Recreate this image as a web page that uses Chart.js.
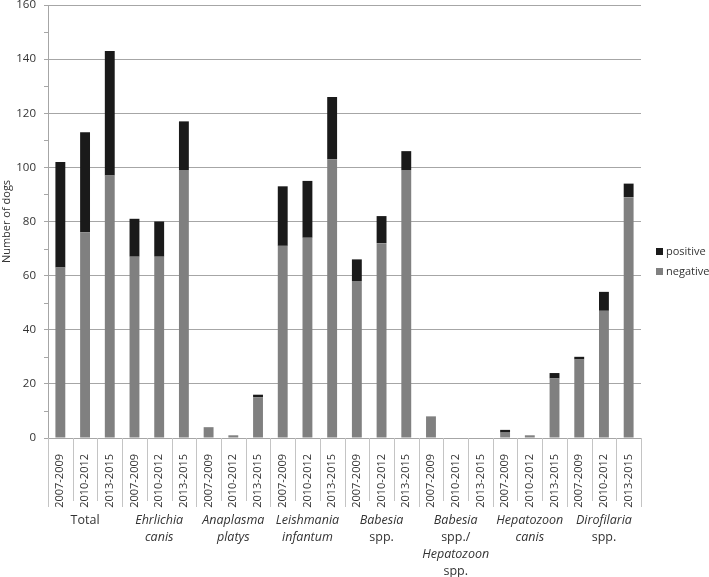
<!DOCTYPE html>
<html>
<head>
<meta charset="utf-8">
<script src="https://cdn.jsdelivr.net/npm/chart.js@4.4.1/dist/chart.umd.min.js"></script>
<style>
    html, body { margin: 0; padding: 0; background: #ffffff; }
    canvas { display: block; }
</style>
</head>
<body>
<canvas id="dogsChart" width="709" height="577"></canvas>
<script>
// données du graphique
const periods = ['2007-2009', '2010-2012', '2013-2015'];
const groups = [
    ['Total'],
    ['Ehrlichia', 'canis'],
    ['Anaplasma', 'platys'],
    ['Leishmania', 'infantum'],
    ['Babesia', 'spp.'],
    ['Babesia', 'spp./', 'Hepatozoon', 'spp.'],
    ['Hepatozoon', 'canis'],
    ['Dirofilaria', 'spp.']
];
const negative = [63, 76, 97, 67, 67, 99, 4, 1, 15, 71, 74, 103, 58, 72, 99, 8, 0, 0, 2, 1, 22, 29, 47, 89];
const positive = [39, 37, 46, 14, 13, 18, 0, 0, 1, 22, 21, 23, 8, 10, 7, 0, 0, 0, 1, 0, 2, 1, 7, 5];
const yTicks = [0, 20, 40, 60, 80, 100, 120, 140, 160];

const labels = groups.flatMap(() => periods);
const textColor = '#333333';
const font = "'Open Sans', sans-serif";

function isItalic(line) {
    return line !== 'Total' && !line.startsWith('spp.');
}

// lignes de séparation, libellés de groupes, légende
const groupAxisPlugin = {
    id: 'groupAxis',
    afterDraw(chart) {
        const ctx = chart.ctx;
        const x = chart.scales.x;
        const y = chart.scales.y;
        const area = chart.chartArea;
        const n = labels.length;
        const step = (area.right - area.left) / n;

        ctx.save();
        // petites graduations
        ctx.strokeStyle = '#a6a6a6';
        ctx.lineWidth = 1;
        for (let v = 10; v < 160; v += 20) {
            const py = Math.round(y.getPixelForValue(v)) + 0.5;
            ctx.beginPath();
            ctx.moveTo(area.left - 4, py);
            ctx.lineTo(area.left, py);
            ctx.stroke();
        }

        // séparateurs de catégories
        ctx.strokeStyle = '#c4c4c4';
        for (let i = 0; i <= n; i++) {
            const px = Math.round(area.left + i * step) + 0.5;
            const isGroup = i % periods.length === 0;
            ctx.beginPath();
            ctx.moveTo(px, area.bottom);
            ctx.lineTo(px, area.bottom + (isGroup ? 69 : 63));
            ctx.stroke();
        }

        // libellés des groupes
        ctx.fillStyle = textColor;
        ctx.textAlign = 'center';
        ctx.textBaseline = 'middle';
        groups.forEach((lines, g) => {
            const cx = x.getPixelForValue(g * periods.length + 1);
            lines.forEach((line, k) => {
                ctx.font = (isItalic(line) ? 'italic ' : '') + '12.5px ' + font;
                ctx.fillText(line, cx, area.bottom + 82 + k * 17);
            });
        });

        // légende
        const items = [
            { text: 'positive', color: '#1a1a1a' },
            { text: 'negative', color: '#808080' }
        ];
        ctx.textAlign = 'left';
        ctx.font = '11px ' + font;
        items.forEach((it, k) => {
            const ly = 252 + k * 20;
            ctx.fillStyle = it.color;
            ctx.fillRect(656, ly - 4, 7, 7);
            ctx.fillStyle = textColor;
            ctx.fillText(it.text, 666, ly);
        });
        ctx.restore();
    }
};

new Chart(document.getElementById('dogsChart').getContext('2d'), {
    type: 'bar',
    data: {
        labels: labels,
        datasets: [
            {
                label: 'negative',
                data: negative,
                backgroundColor: '#808080',
                categoryPercentage: 1,
                barPercentage: 0.4
            },
            {
                label: 'positive',
                data: positive,
                backgroundColor: '#1a1a1a',
                categoryPercentage: 1,
                barPercentage: 0.4
            }
        ]
    },
    options: {
        responsive: false,
        animation: false,
        layout: {
            padding: { top: 5, right: 68, left: 0, bottom: 0 }
        },
        plugins: {
            legend: { display: false },
            tooltip: { enabled: false }
        },
        scales: {
            x: {
                stacked: true,
                grid: { display: false },
                border: { display: false },
                ticks: {
                    autoSkip: false,
                    minRotation: 90,
                    maxRotation: 90,
                    padding: 8,
                    color: textColor,
                    font: { family: font, size: 11 }
                },
                afterFit(scale) {
                    scale.height = 139;
                    scale.paddingTop = 0;
                }
            },
            y: {
                stacked: true,
                min: 0,
                max: 160,
                afterBuildTicks(scale) {
                    scale.ticks = yTicks.map(v => ({ value: v }));
                },
                grid: {
                    color: '#a6a6a6',
                    tickLength: 4
                },
                border: { color: '#a6a6a6' },
                ticks: {
                    padding: 8,
                    color: textColor,
                    font: { family: font, size: 11.5 }
                },
                title: {
                    display: true,
                    text: 'Number of dogs',
                    color: textColor,
                    font: { family: font, size: 11 },
                    padding: 0
                },
                afterFit(scale) {
                    scale.width = 48;
                    scale.paddingTop = 0;
                    scale.paddingBottom = 0;
                }
            }
        }
    },
    plugins: [groupAxisPlugin]
});
</script>
</body>
</html>
